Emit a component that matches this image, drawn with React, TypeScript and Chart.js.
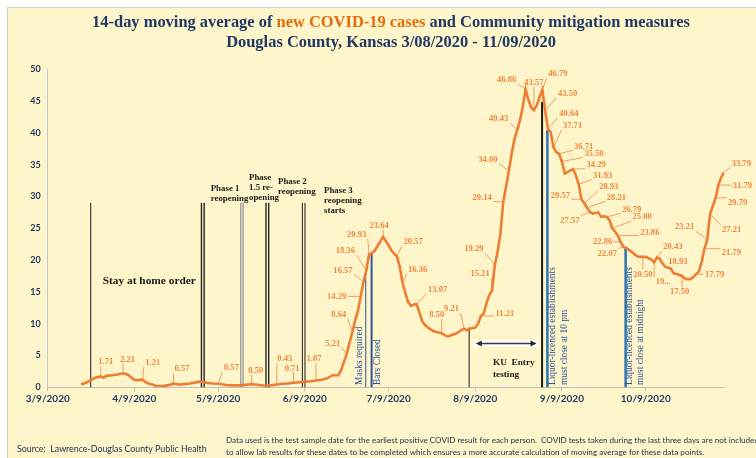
import React, { useEffect, useRef } from "react";
import { Chart, registerables } from "chart.js";

Chart.register(...registerables);

// ---------------- DATA ----------------
// day offsets counted from 3/9/2020
const SERIES_DAYS = [
  12, 14, 15, 17, 19, 20, 21, 23, 25, 27, 28, 29, 30, 31, 32, 34, 35, 36, 38, 39,
  41, 43, 45, 47, 49, 51, 54, 55, 57, 59, 61, 64, 66, 69, 71, 73, 75, 78, 80, 82,
  84, 86, 88, 90, 92, 94, 96, 98, 100, 102, 104, 105, 106, 107, 108, 109, 110, 111, 112, 113,
  114, 115, 116, 117, 118, 119, 120, 121, 122, 123, 124, 125, 126, 127, 128, 129, 130, 131, 132, 133,
  134, 135, 136, 137, 138, 139, 140, 141, 142, 143, 144, 145, 146, 147, 148, 149, 150, 151, 152, 153,
  154, 155, 156, 157, 158, 159, 160, 161, 162, 163, 164, 165, 166, 167, 168, 169, 170, 171, 172, 173,
  174, 175, 176, 177, 178, 179, 180, 181, 182, 183, 184, 185, 186, 187, 188, 189, 190, 191, 192, 193,
  194, 195, 196, 197, 198, 199, 200, 201, 202, 203, 204, 205, 206, 207, 208, 209, 210, 211, 212, 213,
  214, 216, 217, 218, 219, 220, 221, 223, 224, 225, 227, 228, 229, 230, 231, 232, 233, 234, 235, 236,
  237, 238, 239, 240, 241, 242,
];
const SERIES_VALUES = [
  0.43, 0.8, 1.0, 1.5, 1.71, 1.5, 1.8, 1.9, 2.0, 2.21, 2.1, 1.9, 1.5, 1.2, 1.1, 1.21, 0.8, 0.6, 0.35, 0.2,
  0.2, 0.3, 0.57, 0.45, 0.5, 0.6, 0.85, 0.9, 0.7, 0.6, 0.57, 0.35, 0.3, 0.3, 0.4, 0.5, 0.4, 0.25, 0.3, 0.43,
  0.55, 0.6, 0.71, 0.8, 0.85, 0.95, 1.07, 1.2, 1.4, 1.9, 1.9, 2.7, 4.0, 5.21, 7.0, 8.64, 10.5, 12.0, 14.29, 16.57,
  18.36, 20.93, 21.1, 21.5, 22.2, 22.9, 23.64, 23.0, 22.3, 21.5, 21.0, 20.57, 18.9, 16.36, 14.8, 13.4, 12.8, 13.0, 13.07, 11.8,
  10.4, 9.8, 9.4, 9.1, 8.85, 8.7, 8.6, 8.5, 8.2, 8.0, 8.1, 8.3, 8.4, 8.7, 9.0, 9.21, 9.0, 9.2, 9.3, 9.4,
  10.0, 11.21, 11.6, 13.2, 14.5, 15.21, 19.29, 21.3, 24.2, 29.14, 31.5, 34.0, 36.7, 39.0, 40.43, 42.0, 44.1, 46.86, 45.2, 44.0,
  43.57, 44.3, 45.6, 46.79, 43.5, 40.64, 40.1, 37.71, 37.0, 36.71, 35.5, 33.6, 33.85, 34.1, 34.29, 33.3, 31.93, 29.57, 28.93, 28.21,
  27.57, 27.3, 27.4, 27.5, 26.8, 26.9, 26.79, 26.3, 25.0, 24.5, 23.86, 22.86, 22.07, 21.9, 21.6, 21.3, 20.9, 20.6, 20.5, 20.5,
  20.5, 20.1, 19.64, 20.43, 20.2, 19.45, 18.93, 18.65, 17.9, 17.8, 17.5, 17.1, 17.0, 17.0, 17.3, 17.79, 18.2, 19.7, 21.79, 23.21,
  27.21, 28.5, 29.79, 31.79, 33.0, 33.79,
];
const TICK_DAYS = [0, 31, 61, 92, 122, 153, 184, 214];
const TICK_LABELS = [
  "3/9/2020", "4/9/2020", "5/9/2020", "6/9/2020", "7/9/2020", "8/9/2020", "9/9/2020", "10/9/2020",
];
const X_MAX_DAY = 242;
const Y_MAX = 50;
const Y_STEP = 5;

// days whose values carry a data label
const LABEL_DAYS = [
  19, 27, 34, 45, 61, 73, 82, 88, 96, 107, 109, 112, 113, 114, 115, 120, 125, 127, 132, 141,
  149, 155, 159, 160, 163, 165, 168, 171, 174, 177, 178, 179, 181, 183, 184, 188, 190, 191, 192, 193,
  194, 200, 202, 204, 205, 206, 213, 217, 218, 221, 227, 232, 235, 236, 237, 239, 240, 242,
];
const LABEL_TEXT_OVERRIDES: Record<number, string> = { 217: "19..." };

// community mitigation events: day offset, height the marker line reaches, kind
const EVENT_DAYS = [15.4, 55.5, 69.5, 78.6, 91.6, 113.8, 115.9, 150.8, 176.9, 178.8, 206.8];
const EVENT_TOPS = [29, 29, 29, 29, 29, 18.1, 21.0, 9.4, 44.9, 40.4, 21.9];
const EVENT_KINDS = [
  "thin", "doubleDark", "doubleGray", "doubleDark", "doubleThin",
  "navyThin", "navy", "thin", "blackBold", "blue", "blue",
];

const TITLE_PARTS = ["14-day moving average of ", "new COVID-19 cases", " and Community mitigation measures"];
const SUBTITLE = "Douglas County, Kansas 3/08/2020 - 11/09/2020";
const SOURCE_TEXT = "Source:  Lawrence-Douglas County Public Health";
const NOTE_LINES = [
  "Data used is the test sample date for the earliest positive COVID result for each person.  COVID tests taken during the last three days are not included",
  "to allow lab results for these dates to be completed which ensures a more accurate calculation of moving average for these data points.",
];

// ---------------- LAYOUT / STYLE ----------------
const W = 756;
const H = 458;
const SERIF = '"Liberation Serif", "Times New Roman", serif';
const SANS = 'Lato, "Open Sans", sans-serif';
const BG = "#FEF5CB";
const NAVY = "#1F3864";
const ORANGE_TITLE = "#E36C0A";
const LINE_ORANGE = "#ED7D31";
const LABEL_ORANGE = "#F0883E";
const BLUE_TEXT = "#2F5597";

const LINE_STYLES: Record<string, { color: string; width: number; gap: number }> = {
  thin: { color: "#1a1a1a", width: 1, gap: 0 },
  doubleDark: { color: "#262626", width: 1.4, gap: 2.7 },
  doubleGray: { color: "#A3A3A3", width: 1.5, gap: 2.4 },
  doubleThin: { color: "#1a1a1a", width: 1, gap: 2.6 },
  navyThin: { color: "#2F5597", width: 1, gap: 0 },
  navy: { color: "#2F5597", width: 2, gap: 0 },
  blackBold: { color: "#1a1a1a", width: 2, gap: 0 },
  blue: { color: "#2E75B6", width: 2.5, gap: 0 },
};

const LABEL_OFFSETS: [number, number][] = [
  [5, -15], [4.5, -14], [10, -17], [8.5, -15], [13, -16], [4, -14], [8, -26], [-1.5, -15], [-2, -22], [-14, -11],
  [-13.5, -18], [-24, 0], [-20.5, -12], [-21, -20], [-12.5, -20], [-4, -12], [16, -15], [15, -14], [21, -15], [-5, -19],
  [-12.5, -20], [24, -3], [-12, -17], [-21, -16], [-21, -5], [-21, -12], [-18.5, -12], [-19, -10], [0, -28], [15.5, -16],
  [22.5, -17.5], [21, -16], [19, -22], [24.5, -8], [32, -8.5], [23, -5], [24, -9], [-21, -3.5], [24.5, -16.6], [29.4, -11],
  [-20, 8], [25, -8], [30, -11.6], [32, -3.6], [-18, -1], [-16, 6], [0, 17], [9, 19], [16, -11], [12.5, -6],
  [-2.4, 15.7], [18.6, 0], [27, 4], [-22.6, -13], [21.6, 15], [22, 4], [24, 0.6], [17.3, -9.4],
];

const PHASE_TEXTS = [
  { x: 210.7, y: 189, lines: ["Phase 1", "reopening"] },
  { x: 249, y: 177.5, lines: ["Phase", "1.5 re-", "opening"] },
  { x: 278, y: 182, lines: ["Phase 2", "reopening"] },
  { x: 324, y: 191, lines: ["Phase 3", "reopening", "starts"] },
];
const ROTATED_TEXTS = [
  { text: "Masks required", x: 360, y: 385 },
  { text: "Bars Closed", x: 378, y: 385 },
  { text: "Liquor-licenced establishments", x: 553, y: 385 },
  { text: "must close at 10 pm", x: 564.5, y: 385 },
  { text: "Liquor-licenced establishments", x: 630, y: 385 },
  { text: "must close at midnight", x: 641, y: 385 },
];
const ARROW = { fromDay: 153.2, toDay: 174.9, value: 6.9 };

function fitSize(ctx: CanvasRenderingContext2D, text: string, weight: string, family: string, target: number) {
  ctx.font = `${weight} 100px ${family}`;
  const w = ctx.measureText(text).width;
  return (100 * target) / w;
}

const decorPlugin = {
  id: "decor",
  beforeDraw(chart: any) {
    const ctx: CanvasRenderingContext2D = chart.ctx;
    ctx.save();
    ctx.fillStyle = "#ffffff";
    ctx.fillRect(0, 0, W, H);
    ctx.fillStyle = BG;
    ctx.fillRect(7, 7, W - 7, H - 7);
    ctx.strokeStyle = "#CFCFCF";
    ctx.lineWidth = 1;
    ctx.beginPath();
    ctx.moveTo(7.5, H);
    ctx.lineTo(7.5, 7.5);
    ctx.lineTo(W, 7.5);
    ctx.stroke();

    // title
    const full = TITLE_PARTS.join("");
    const ts = fitSize(ctx, full, "bold", SERIF, 598);
    ctx.font = `bold ${ts}px ${SERIF}`;
    ctx.textBaseline = "middle";
    ctx.textAlign = "left";
    let tx = 391 - ctx.measureText(full).width / 2;
    TITLE_PARTS.forEach((p, i) => {
      ctx.fillStyle = i === 1 ? ORANGE_TITLE : NAVY;
      ctx.fillText(p, tx, 23);
      tx += ctx.measureText(p).width;
    });
    ctx.fillStyle = NAVY;
    ctx.textAlign = "center";
    ctx.fillText(SUBTITLE, 391, 43);

    // footer
    ctx.textAlign = "left";
    ctx.fillStyle = "#1F2D4F";
    const ss = fitSize(ctx, SOURCE_TEXT, "normal", SANS, 190);
    ctx.font = `normal ${ss}px ${SANS}`;
    ctx.fillText(SOURCE_TEXT, 17, 449);
    const ns = fitSize(ctx, NOTE_LINES[1], "normal", SANS, 479);
    ctx.font = `normal ${ns}px ${SANS}`;
    ctx.fillText(NOTE_LINES[0], 226, 440);
    ctx.fillText(NOTE_LINES[1], 226, 452);
    ctx.restore();
  },
  beforeDatasetsDraw(chart: any) {
    const ctx: CanvasRenderingContext2D = chart.ctx;
    const xs = chart.scales.x;
    const ys = chart.scales.y;
    ctx.save();
    // event lines
    EVENT_DAYS.forEach((d, i) => {
      const st = LINE_STYLES[EVENT_KINDS[i]];
      const px = xs.getPixelForValue(d);
      const y0 = ys.getPixelForValue(0);
      const y1 = ys.getPixelForValue(EVENT_TOPS[i]);
      ctx.strokeStyle = st.color;
      ctx.lineWidth = st.width;
      const offs = st.gap ? [-st.gap / 2, st.gap / 2] : [0];
      offs.forEach((o) => {
        ctx.beginPath();
        ctx.moveTo(px + o, y0);
        ctx.lineTo(px + o, y1);
        ctx.stroke();
      });
    });

    // arrow
    const ax0 = xs.getPixelForValue(ARROW.fromDay);
    const ax1 = xs.getPixelForValue(ARROW.toDay);
    const ay = ys.getPixelForValue(ARROW.value);
    ctx.fillStyle = "#ffffff";
    ctx.fillRect(ax0 - 2, ay - 3.5, ax1 - ax0 + 4, 7);
    ctx.strokeStyle = "#3a3a3a";
    ctx.lineWidth = 1.5;
    ctx.beginPath();
    ctx.moveTo(ax0 + 4, ay);
    ctx.lineTo(ax1 - 4, ay);
    ctx.stroke();
    ctx.fillStyle = "#262626";
    ctx.beginPath();
    ctx.moveTo(ax0, ay);
    ctx.lineTo(ax0 + 6, ay - 3);
    ctx.lineTo(ax0 + 6, ay + 3);
    ctx.closePath();
    ctx.fill();
    ctx.beginPath();
    ctx.moveTo(ax1, ay);
    ctx.lineTo(ax1 - 6, ay - 3);
    ctx.lineTo(ax1 - 6, ay + 3);
    ctx.closePath();
    ctx.fill();

    // phase texts
    ctx.fillStyle = "#1a1a1a";
    ctx.textAlign = "left";
    ctx.textBaseline = "middle";
    const ps = fitSize(ctx, "reopening", "bold", SERIF, 37.7);
    ctx.font = `bold ${ps}px ${SERIF}`;
    PHASE_TEXTS.forEach((t) => {
      t.lines.forEach((l, j) => ctx.fillText(l, t.x, t.y + j * 10));
    });
    const ks = fitSize(ctx, "KU  Entry", "bold", SERIF, 41.7);
    ctx.font = `bold ${ks}px ${SERIF}`;
    ctx.fillText("KU  Entry", 493, 363);
    ctx.fillText("testing", 493, 375);
    const hs = fitSize(ctx, "Stay at home order", "bold", SERIF, 93.3);
    ctx.font = `bold ${hs}px ${SERIF}`;
    ctx.fillText("Stay at home order", 102.7, 280.7);

    // rotated
    const rs = fitSize(ctx, "Liquor-licenced establishments", "normal", SERIF, 118);
    ctx.font = `normal ${rs}px ${SERIF}`;
    ctx.fillStyle = BLUE_TEXT;
    ROTATED_TEXTS.forEach((t) => {
      ctx.save();
      ctx.translate(t.x, t.y);
      ctx.rotate(-Math.PI / 2);
      ctx.fillText(t.text, 0, 0);
      ctx.restore();
    });
    ctx.restore();
  },
  afterDatasetsDraw(chart: any) {
    const ctx: CanvasRenderingContext2D = chart.ctx;
    const xs = chart.scales.x;
    const ys = chart.scales.y;
    ctx.save();
    const ls = fitSize(ctx, "46.86", "bold", SERIF, 19.3);
    ctx.font = `bold ${ls}px ${SERIF}`;
    ctx.textAlign = "center";
    ctx.textBaseline = "middle";
    LABEL_DAYS.forEach((d, i) => {
      const idx = SERIES_DAYS.indexOf(d);
      const v = SERIES_VALUES[idx];
      const ax = xs.getPixelForValue(d);
      const ay = ys.getPixelForValue(v);
      const [dx, dy] = LABEL_OFFSETS[i];
      const bx = ax + dx;
      const by = ay + dy;
      const text = LABEL_TEXT_OVERRIDES[d] ?? v.toFixed(2);
      const hw = ctx.measureText(text).width / 2 + 1.5;
      const hh = 4.5;
      const px = Math.min(Math.max(ax, bx - hw), bx + hw);
      const py = Math.min(Math.max(ay, by - hh), by + hh);
      if (Math.hypot(ax - px, ay - py) > 3) {
        ctx.strokeStyle = LABEL_ORANGE;
        ctx.lineWidth = 0.8;
        ctx.beginPath();
        ctx.moveTo(px, py);
        ctx.lineTo(ax, ay);
        ctx.stroke();
      }
      ctx.fillStyle = LABEL_ORANGE;
      ctx.fillText(text, bx, by + 0.5);
    });
    ctx.restore();
  },
};

export default function App() {
  const ref = useRef<HTMLCanvasElement>(null);
  useEffect(() => {
    if (!ref.current) return;
    const chart = new Chart(ref.current, {
      type: "line",
      data: {
        datasets: [
          {
            label: "14-day moving average",
            data: SERIES_DAYS.map((d, i) => ({ x: d, y: SERIES_VALUES[i] })),
            borderColor: LINE_ORANGE,
            borderWidth: 2.6,
            pointRadius: 0,
            tension: 0,
            fill: false,
          },
        ],
      },
      options: {
        responsive: false,
        animation: false,
        layout: { padding: { top: 69.3, right: 32, bottom: 0, left: 0 } },
        plugins: { legend: { display: false }, tooltip: { enabled: false }, title: { display: false } },
        scales: {
          x: {
            type: "linear",
            min: 0,
            max: X_MAX_DAY,
            afterBuildTicks: (scale: any) => {
              scale.ticks = TICK_DAYS.map((v) => ({ value: v }));
            },
            afterFit: (scale: any) => {
              scale.height = H - 387.3;
            },
            ticks: {
              autoSkip: false,
              maxRotation: 0,
              padding: 1,
              color: NAVY,
              font: { family: SANS, size: 10, weight: "bold" },
              callback: (_v: any, i: number) => TICK_LABELS[i] ?? "",
            },
            grid: { display: true, drawOnChartArea: false, drawTicks: true, tickLength: 4, color: "#BFBFBF" },
            border: { display: true, color: "#BFBFBF", width: 1 },
          },
          y: {
            min: 0,
            max: Y_MAX,
            afterFit: (scale: any) => {
              scale.width = 47.7;
            },
            ticks: {
              stepSize: Y_STEP,
              padding: 7,
              color: NAVY,
              font: { family: SANS, size: 9, weight: "bold" },
            },
            grid: { display: false, drawTicks: false },
            border: { display: true, color: "#BFC9D9", width: 1 },
          },
        },
      },
      plugins: [decorPlugin],
    } as any);
    return () => chart.destroy();
  }, []);
  return (
    <div style={{ position: "absolute", left: 0, top: 0, width: W, height: H, overflow: "hidden" }}>
      <canvas ref={ref} width={W} height={H} style={{ display: "block", width: W, height: H }} />
    </div>
  );
}
